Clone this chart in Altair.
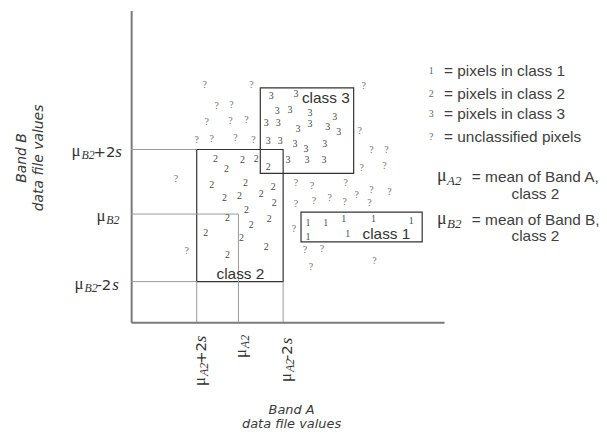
import altair as alt
import pandas as pd

# ---------------- values (Band A across, Band B up) ----------------
a_ref_values = [66, 108, 153]          # mu_A2+2s, mu_A2, mu_A2-2s
a_ref_suffix = ["+2", "", "-2"]
b_ref_values = [174, 109, 41]          # mu_B2+2s, mu_B2, mu_B2-2s
b_ref_suffix = ["+2", "", "-2"]

box_names = ["class 1", "class 2", "class 3"]
box_a_lo = [171, 66, 130]
box_a_hi = [293, 153, 224]
box_b_lo = [81, 41, 150]
box_b_hi = [111, 174, 236]
box_label_a = [257, 110, 196]
box_label_b = [89, 49, 226]

guide_a_from = [0, 0, 0, 66, 108, 153]
guide_a_to = [66, 108, 66, 66, 108, 153]
guide_b_from = [174, 109, 41, 0, 0, 0]
guide_b_to = [174, 109, 41, 41, 109, 41]

class1_a = [178, 196, 214, 244, 282, 178, 218]
class1_b = [100, 100, 104, 104, 102, 86, 89]

class2_a = [85, 96, 112, 126, 138, 81, 115, 143, 94, 109, 131, 144, 116, 97, 121, 139, 75, 111, 136, 97]
class2_b = [164, 154, 163, 164, 156, 138, 140, 136, 125, 127, 129, 120, 113, 105, 98, 104, 90, 85, 76, 68]

class3_a = [141, 166, 147, 160, 180, 205, 136, 148, 168, 180, 198, 209, 138, 150, 165, 176, 195, 158, 177, 194]
class3_b = [228, 230, 213, 214, 211, 207, 201, 201, 195, 200, 197, 192, 183, 183, 180, 174, 180, 163, 163, 163]

unclass_a = [74, 121, 234, 86, 101, 76, 100, 116, 230, 66, 81, 105, 123, 242, 257, 232, 255, 45,
             166, 182, 216, 166, 184, 200, 215, 227, 242, 240, 260, 164, 56, 175, 192, 245, 181]
unclass_b = [239, 239, 238, 218, 219, 202, 203, 204, 193, 184, 185, 186, 184, 173, 173, 155, 157, 144,
             140, 137, 140, 119, 122, 125, 121, 128, 133, 120, 131, 94, 72, 73, 74, 62, 56]

legend_symbols = ["1", "2", "3", "?"]
legend_texts = ["= pixels in class 1", "= pixels in class 2", "= pixels in class 3", "= unclassified pixels"]
legend_b = [253, 230, 210, 187]
legend_a = [302, 302, 302, 302]

mean_bands = ["A2", "B2"]
mean_texts = ["= mean of Band A,", "= mean of Band B,"]
mean_b = [146, 103]
mean_class_b = [129, 87]
mean_a = [308, 308]

# ---------------- helpers ----------------
XS = alt.Scale(domain=[0, 315], nice=False, zero=False)
YS = alt.Scale(domain=[0, 314], nice=False, zero=False)

SERIF = "Liberation Serif"
SANS = "Liberation Sans"


def xy(ch, xa="a", yb="b"):
    return ch.encode(x=alt.X(f"{xa}:Q", scale=XS),
                     y=alt.Y(f"{yb}:Q", scale=YS))


def text_layer(df, **mark):
    return xy(alt.Chart(df).mark_text(**mark)).encode(text="t:N")


def const_text(a, b, text, **mark):
    df = pd.DataFrame({"a": [a], "b": [b]})
    return xy(alt.Chart(df).mark_text(text=text, **mark))


layers = []

# class boxes (carry the two axes)
x_axis = alt.Axis(title=["Band A", "data file values"], domain=True, domainColor="#7a7a7a",
                  domainWidth=2, ticks=False, labels=False, grid=False,
                  titleFont="DejaVu Sans", titleFontStyle="italic", titleFontWeight="normal",
                  titleFontSize=13, titleColor="#3a3a3a", titleX=161, titleY=82,
                  titleAlign="center", titleBaseline="top", titleLineHeight=14)
y_axis = alt.Axis(title=["Band B", "data file values"], domain=True, domainColor="#7a7a7a",
                  domainWidth=2, ticks=False, labels=False, grid=False,
                  titleFont="DejaVu Sans", titleFontStyle="italic", titleFontWeight="normal",
                  titleFontSize=14, titleColor="#3a3a3a", titleAngle=270, titleX=-117, titleY=148,
                  titleAlign="center", titleBaseline="top", titleLineHeight=17)
box_df = pd.DataFrame({"name": box_names, "a0": box_a_lo, "a1": box_a_hi, "b0": box_b_lo, "b1": box_b_hi})
layers.append(alt.Chart(box_df).mark_rect(fillOpacity=0, stroke="#333333", strokeWidth=1.2).encode(
    x=alt.X("a0:Q", scale=XS, axis=x_axis), x2="a1:Q",
    y=alt.Y("b0:Q", scale=YS, axis=y_axis), y2="b1:Q"))

# guide lines from the axes to the class-2 box
guide_df = pd.DataFrame({"a0": guide_a_from, "a1": guide_a_to, "b0": guide_b_from, "b1": guide_b_to})
layers.append(alt.Chart(guide_df).mark_rule(color="#9a9a9a", strokeWidth=1).encode(
    x=alt.X("a0:Q", scale=XS), x2="a1:Q",
    y=alt.Y("b0:Q", scale=YS), y2="b1:Q"))

# pixels
for lab, aa, bb, col in [("1", class1_a, class1_b, "#3f5555"), ("2", class2_a, class2_b, "#4a4a4a"),
                         ("3", class3_a, class3_b, "#4a4a4a"), ("?", unclass_a, unclass_b, "#707070")]:
    df = pd.DataFrame({"a": aa, "b": bb, "t": [lab] * len(aa)})
    layers.append(text_layer(df, font=SERIF, fontSize=10, color=col, align="center", baseline="middle"))

# class labels
cl_df = pd.DataFrame({"a": box_label_a, "b": box_label_b, "t": box_names})
layers.append(text_layer(cl_df, font=SANS, fontSize=15.5, color="#333333", align="center", baseline="middle"))

# axis reference labels built from pieces (mu, subscript, +-2, s)
W_MU, W_SUB = 10, 12
W_NUM = {"+2": 22, "-2": 16, "": 0}
Y_START = [-60, -35, -57]
X_START = [-64, -36, -60]
LAB_COL = "#333333"

for val, suf, s in zip(b_ref_values, b_ref_suffix, Y_START):
    layers.append(const_text(0, val, "\u03bc", dx=s, dy=2, font=SERIF, fontSize=17, color=LAB_COL, align="left"))
    layers.append(const_text(0, val, "B2", dx=s + W_MU, dy=6, font=SERIF, fontStyle="italic", fontSize=12,
                             color=LAB_COL, align="left"))
    if suf:
        layers.append(const_text(0, val, suf, dx=s + W_MU + W_SUB, dy=3, font="DejaVu Sans", fontSize=15,
                                 color=LAB_COL, align="left"))
        layers.append(const_text(0, val, "s", dx=s + W_MU + W_SUB + W_NUM[suf], dy=3, font=SERIF,
                                 fontStyle="italic", fontSize=17, color=LAB_COL, align="left"))

for val, suf, s in zip(a_ref_values, a_ref_suffix, X_START):
    layers.append(const_text(val, 0, "\u03bc", dx=s, dy=3, angle=270, font=SERIF, fontSize=17,
                             color=LAB_COL, align="left"))
    layers.append(const_text(val, 0, "A2", dx=s + W_MU, dy=7, angle=270, font=SERIF, fontStyle="italic",
                             fontSize=12, color=LAB_COL, align="left"))
    if suf:
        layers.append(const_text(val, 0, suf, dx=s + W_MU + W_SUB, dy=4, angle=270, font="DejaVu Sans",
                                 fontSize=15, color=LAB_COL, align="left"))
        layers.append(const_text(val, 0, "s", dx=s + W_MU + W_SUB + W_NUM[suf], dy=4, angle=270,
                                 font=SERIF, fontStyle="italic", fontSize=17, color=LAB_COL, align="left"))

# legend
leg_sym = pd.DataFrame({"a": legend_a, "b": legend_b, "t": legend_symbols})
layers.append(text_layer(leg_sym, font=SERIF, fontSize=10, color="#666666", align="center", baseline="middle"))
leg_txt = pd.DataFrame({"a": legend_a, "b": legend_b, "t": legend_texts})
layers.append(text_layer(leg_txt, dx=13, font=SANS, fontSize=15.5, color="#404040", align="left",
                         baseline="middle"))

mean_df = pd.DataFrame({"a": mean_a, "b": mean_b, "t": mean_texts})
layers.append(text_layer(mean_df, dx=35, font=SANS, fontSize=15.5, color="#404040", align="left",
                         baseline="middle"))
mean_mu = pd.DataFrame({"a": mean_a, "b": mean_b, "t": ["\u03bc"] * 2})
layers.append(text_layer(mean_mu, dy=4, font=SERIF, fontSize=18, color="#333333", align="left",
                         baseline="alphabetic"))
mean_sub = pd.DataFrame({"a": mean_a, "b": mean_b, "t": mean_bands})
layers.append(text_layer(mean_sub, dx=10, dy=8, font=SERIF, fontStyle="italic", fontSize=13,
                         color="#333333", align="left", baseline="alphabetic"))
mean_cls = pd.DataFrame({"a": mean_a, "b": mean_class_b, "t": ["class 2"] * 2})
layers.append(text_layer(mean_cls, dx=99, font=SANS, fontSize=15.5, color="#404040", align="center",
                         baseline="middle"))

chart = alt.layer(*layers).properties(
    width=315, height=314,
    autosize=alt.AutoSizeParams(type="none"),
    padding={"left": 124, "top": 1, "right": 156, "bottom": 112},
    background="white",
).configure_view(strokeOpacity=0)

chart.save("out.html", embed_options={"renderer": "svg", "actions": False})
